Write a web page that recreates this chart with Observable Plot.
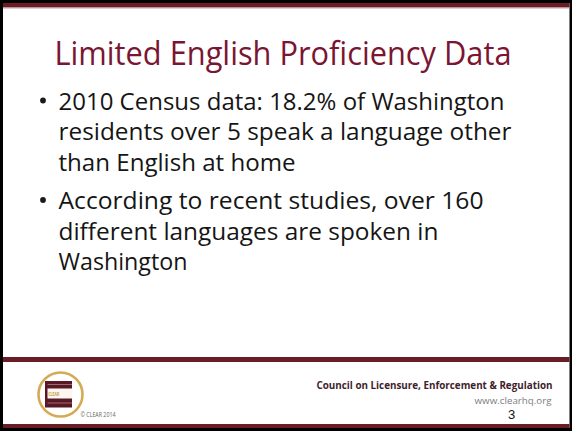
<!DOCTYPE html>
<html><head><meta charset="utf-8">
<script src="https://cdn.jsdelivr.net/npm/d3@7"></script>
<script src="https://cdn.jsdelivr.net/npm/@observablehq/plot@0.6"></script>
<style>html,body{margin:0;padding:0;background:#fff;}</style>
</head><body><div id="chart"></div>
<script>
// ---- content ----
const titleText = "Limited English Proficiency Data";
const bullet1Lines = ["2010 Census data: 18.2% of Washington", "residents over 5 speak a language other", "than English at home"];
const bullet2Lines = ["According to recent studies, over 160", "different languages are spoken in", "Washington"];
const footerOrg = "Council on Licensure, Enforcement & Regulation";
const footerUrl = "www.clearhq.org";
const slideNumber = "3";
const copyrightText = "© CLEAR 2014";
const logoText = "CLEAR";

// ---- layout (pixels) ----
const W = 572, H = 431;
const maroon = "#6a1d27";
const bands = [
  {x1: 0, x2: W, y1: 0, y2: H, fill: "#000"},
  {x1: 3, x2: 569.5, y1: 3, y2: 428, fill: "#fff"},
  {x1: 3, x2: 569.5, y1: 3, y2: 7.5, fill: maroon},
  {x1: 3, x2: 569.5, y1: 7.5, y2: 8.5, fill: "#c49aa0"},
  {x1: 3, x2: 569.5, y1: 357, y2: 362, fill: maroon},
  {x1: 3, x2: 569.5, y1: 424, y2: 428, fill: maroon}
];
const bodyLayout = {textX: 58, bulletX: 42.5, lineH: 30.5, starts: [109, 208.5], size: 23.5,
  widths: [[446, 453, 237], [425, 380, 129]]};

const bodyRows = [];
const bulletRows = [];
[bullet1Lines, bullet2Lines].forEach((lines, b) => {
  const y0 = bodyLayout.starts[b];
  bulletRows.push({x: bodyLayout.bulletX, y: y0 - 9});
  lines.forEach((t, i) => bodyRows.push({x: bodyLayout.textX, y: y0 + i * bodyLayout.lineH, text: t, w: bodyLayout.widths[b][i]}));
});

const logo = {cx: 60, cy: 394, r: 22};
const logoRects = [
  {x1: 45, x2: 72, y1: 381, y2: 407.5, fill: "#5a1827"},
  {x1: 47.5, x2: 72.5, y1: 388.5, y2: 398.5, fill: "#fbf7f0"},
  {x1: 47.5, x2: 72, y1: 384, y2: 385, fill: "#9a6a70"},
  {x1: 47.5, x2: 72, y1: 402.5, y2: 403.5, fill: "#9a6a70"}
];

const titleRow = [{x: 54, y: 64.5, text: titleText, w: 457}];
const orgRow = [{x: 552, y: 388, text: footerOrg, w: 236}];
const urlRow = [{x: 551, y: 403, text: footerUrl, w: 77}];
const numRow = [{x: 511, y: 418, text: slideNumber}];
const copyRow = [{x: 80, y: 416, text: copyrightText, w: 35}];
const logoTextRow = [{x: 47.8, y: 395.6, text: logoText, w: 11}];

const font = "Open Sans";
const svg = Plot.plot({
  width: W, height: H,
  margin: 0, marginTop: 0, marginRight: 0, marginBottom: 0, marginLeft: 0,
  x: {domain: [0, W], range: [0, W], axis: null},
  y: {domain: [0, H], range: [0, H], axis: null},
  style: {background: "#fff"},
  marks: [
    Plot.rect(bands, {x1: "x1", x2: "x2", y1: "y1", y2: "y2", fill: d => d.fill}),
    Plot.text(titleRow, {x: "x", y: "y", text: "text", textAnchor: "start", lineAnchor: "bottom",
      fontSize: 33, fontFamily: font, fill: "#7a1532"}),
    Plot.dot(bulletRows, {x: "x", y: "y", r: 2.9, fill: "#1a1a1a", stroke: null}),
    Plot.text(bodyRows, {x: "x", y: "y", text: "text", textAnchor: "start", lineAnchor: "bottom",
      fontSize: bodyLayout.size, fontFamily: font, fill: "#151515"}),
    Plot.dot([logo], {x: "cx", y: "cy", r: logo.r, fill: "#fff", stroke: "#d4aa55", strokeWidth: 2.6}),
    Plot.rect(logoRects, {x1: "x1", x2: "x2", y1: "y1", y2: "y2", fill: d => d.fill}),
    Plot.text(logoTextRow, {x: "x", y: "y", text: "text", textAnchor: "start", lineAnchor: "bottom",
      fontSize: 4.5, fontFamily: font, fontWeight: "bold", fill: "#c89a48"}),
    Plot.text(copyRow, {x: "x", y: "y", text: "text", textAnchor: "start", lineAnchor: "bottom",
      fontSize: 7.5, fontFamily: font, fill: "#666"}),
    Plot.text(orgRow, {x: "x", y: "y", text: "text", textAnchor: "end", lineAnchor: "bottom",
      fontSize: 10.5, fontFamily: font, fontWeight: "bold", fill: "#3e1e2b"}),
    Plot.text(urlRow, {x: "x", y: "y", text: "text", textAnchor: "end", lineAnchor: "bottom",
      fontSize: 9.5, fontFamily: font, fill: "#7d7d7d"}),
    Plot.text(numRow, {x: "x", y: "y", text: "text", textAnchor: "middle", lineAnchor: "bottom",
      fontSize: 13, fontFamily: "Liberation Sans", fill: "#111"})
  ]
});

// fit text widths to the reference
const widthByText = new Map();
[...titleRow, ...bodyRows, ...orgRow, ...urlRow, ...copyRow, ...logoTextRow].forEach(d => widthByText.set(d.text, d.w));
svg.querySelectorAll("text").forEach(t => {
  const w = widthByText.get(t.textContent);
  if (w) { t.setAttribute("textLength", w); t.setAttribute("lengthAdjust", "spacingAndGlyphs"); }
});
document.getElementById("chart").appendChild(svg);
</script>
</body></html>
